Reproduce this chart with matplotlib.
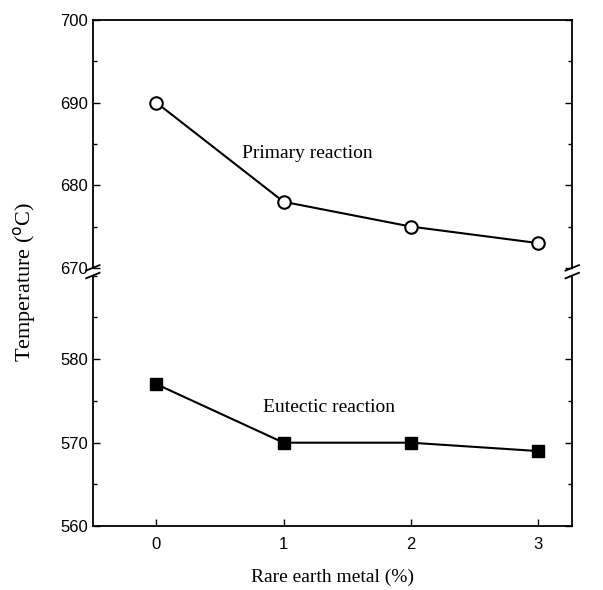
import matplotlib
matplotlib.use('Agg')
import matplotlib.pyplot as plt
from matplotlib.ticker import MultipleLocator

# data
re_content = [0, 1, 2, 3]
primary_temp = [690, 678, 675, 673]
eutectic_temp = [577, 570, 570, 569]
x_ticks = [0, 1, 2, 3]
upper_ticks = [670, 680, 690, 700]
lower_ticks = [560, 570, 580]

serif = 'Liberation Serif'
sans = 'Liberation Sans'

fig = plt.figure(figsize=(6.03, 5.9), dpi=100)
ax_top = fig.add_axes([0.154, 0.546, 0.795, 0.420])
ax_bot = fig.add_axes([0.154, 0.108, 0.795, 0.425])

ax_top.plot(re_content, primary_temp, '-', color='black', lw=1.5,
            marker='o', ms=9, mfc='white', mec='black', mew=1.5)
ax_bot.plot(re_content, eutectic_temp, '-', color='black', lw=1.5,
            marker='s', ms=9, mfc='black', mec='black')

ax_top.set_ylim(670, 700)
ax_bot.set_ylim(560, 590)
for ax in (ax_top, ax_bot):
    ax.set_xlim(-0.5, 3.27)
    ax.yaxis.set_minor_locator(MultipleLocator(5))
    ax.tick_params(which='both', direction='in', right=True, width=1, labelsize=12)
    ax.tick_params(which='major', length=5)
    ax.tick_params(which='minor', length=3)
    for s in ax.spines.values():
        s.set_linewidth(1.3)

ax_top.set_yticks(upper_ticks)
ax_bot.set_yticks(lower_ticks)
ax_top.spines['bottom'].set_visible(False)
ax_bot.spines['top'].set_visible(False)
ax_top.tick_params(axis='x', which='both', bottom=False, labelbottom=False)
ax_bot.set_xticks(x_ticks)
ax_bot.tick_params(axis='x', top=False, pad=8)
for lab in ax_top.get_yticklabels() + ax_bot.get_yticklabels() + ax_bot.get_xticklabels():
    lab.set_family(sans)
    lab.set_fontsize(12)

# break marks on both spines
dx, dy = 0.014, 0.011
kw = dict(color='black', lw=1.3, clip_on=False)
for xx in (0, 1):
    ax_top.plot([xx - dx, xx + dx], [-dy, dy], transform=ax_top.transAxes, **kw)
    ax_bot.plot([xx - dx, xx + dx], [1 - dy, 1 + dy], transform=ax_bot.transAxes, **kw)

ax_top.text(1.19, 683.9, 'Primary reaction', fontsize=14, family=serif, ha='center', va='center')
ax_bot.text(1.36, 574.2, 'Eutectic reaction', fontsize=14, family=serif, ha='center', va='center')

ax_bot.set_xlabel('Rare earth metal (%)', fontsize=14, family=serif, labelpad=12)
fig.text(0.040, 0.522, r'Temperature ($^\mathrm{o}$C)', rotation=90, fontsize=16, family=serif,
         ha='center', va='center')

fig.savefig('out.png', dpi=100)
